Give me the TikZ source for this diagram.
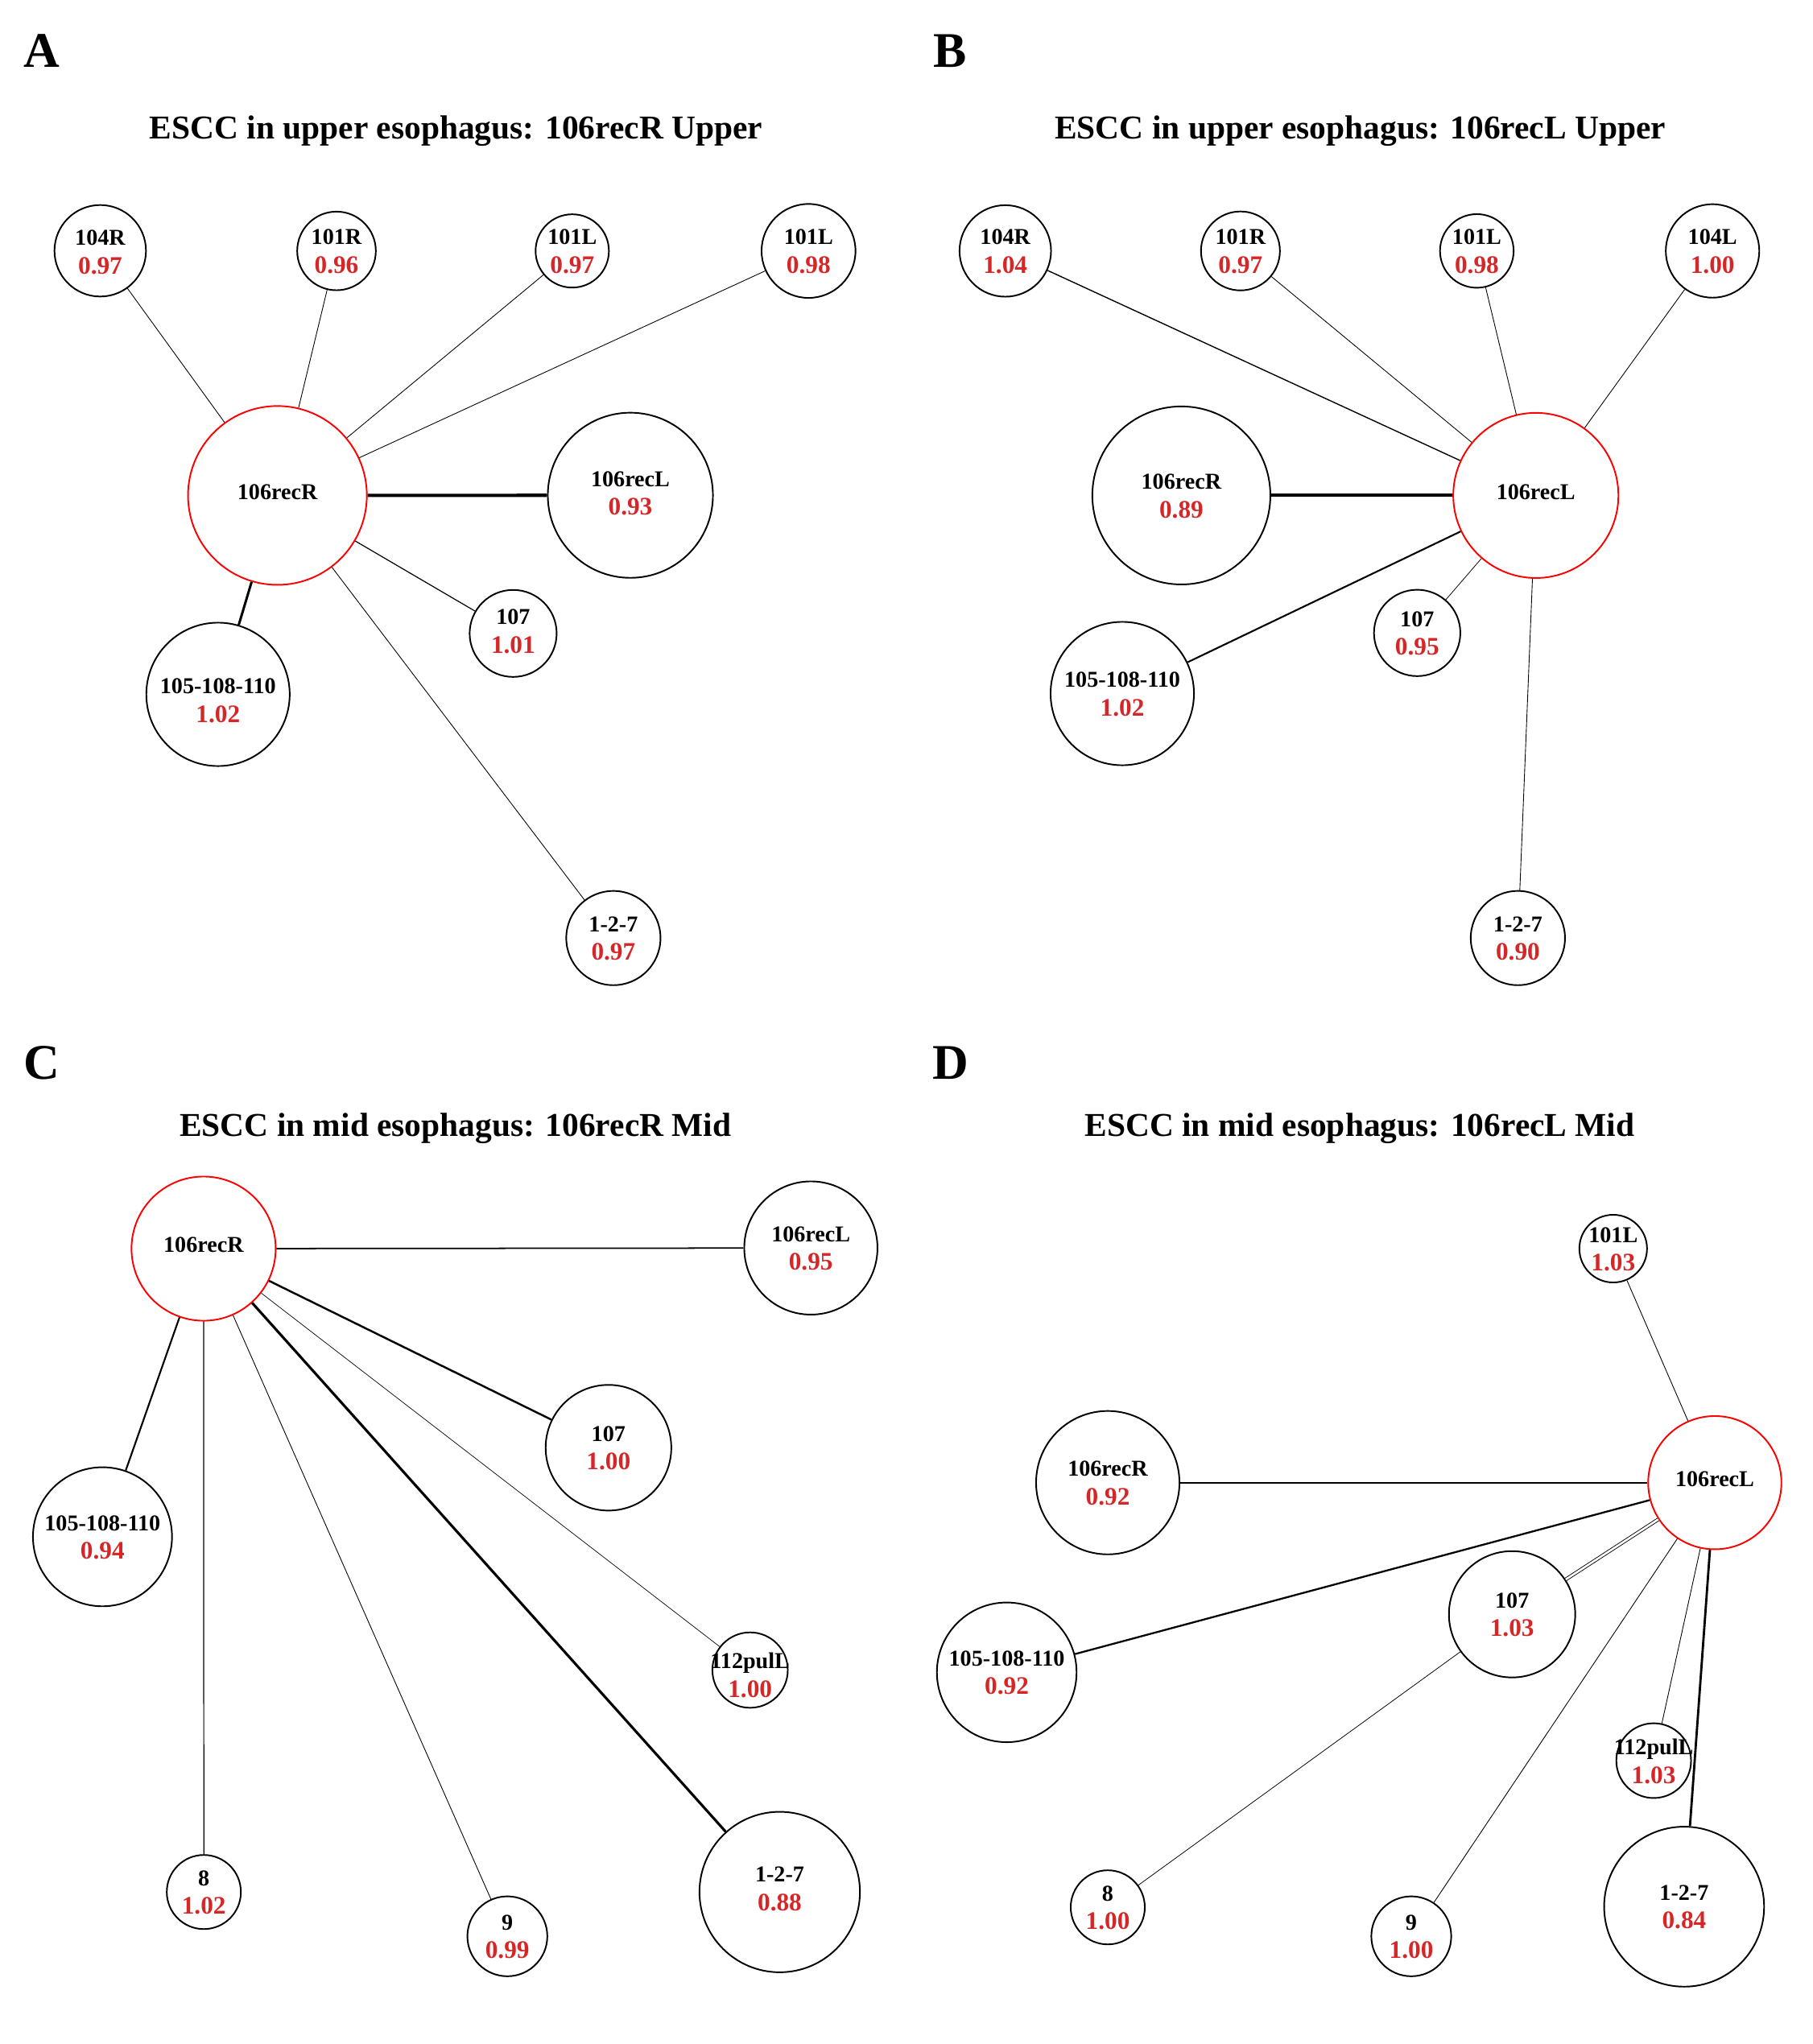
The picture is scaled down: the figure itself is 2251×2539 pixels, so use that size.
\documentclass[tikz,border=0pt]{standalone}
\usepackage{fontspec}
\setmainfont{Liberation Serif}
\definecolor{valred}{RGB}{214,39,40}
\definecolor{hubred}{RGB}{255,0,0}
\newcommand{\nm}[1]{{\fontsize{8.0}{10.1}\selectfont #1}}
\newcommand{\vl}[1]{{\color{valred}\fontsize{8.9}{10.1}\selectfont #1}}
\tikzset{
  nd/.style={circle, draw=black, line width=0.55pt, inner sep=0pt, minimum size={#1*0.56906pt}},
  hub/.style={nd=#1, draw=hubred},
  lt/.style={align=center, inner sep=0pt, font=\bfseries\fontsize{8.0}{10.1}\selectfont},
  lbv/.style 2 args={label={[lt,yshift=-0.2pt]center:{\nm{#1}\\\vl{#2}}}},
  lbvs/.style n args={3}{label={[lt,yshift=#3]center:{\nm{#1}\\\vl{#2}}}},
  lbh/.style={label={[lt,yshift=1.3pt]center:{\nm{#1}}}},
  ttl/.style={anchor=base, inner sep=0pt, font=\bfseries\fontsize{11.78}{14}\selectfont},
  pl/.style={anchor=base west, inner sep=0pt, font=\bfseries\fontsize{17.6}{20}\selectfont},
  ew/.style={line width=#1, draw=black},
}
\begin{document}
\begin{tikzpicture}[x=0.01cm,y=-0.01cm]
\useasboundingbox (0,0) rectangle (2251,2539);

% ---------------- Panel A ----------------
\node[pl] (pA) at (29,83.4) {A};
\node[ttl] (tA) at (566.5,172.5) {ESCC in upper esophagus: 106recR Upper};
\node[hub=111, lbh={106recR}] (Ahub) at (344.6,615.4) {};
\node[nd=56.8, lbvs={104R}{0.97}{-0.6pt}] (A104R) at (124.5,311.5) {};
\node[nd=48.8, lbv={101R}{0.96}] (A101R) at (418,311.7) {};
\node[nd=45.5, lbv={101L}{0.97}] (A101La) at (710.8,311.7) {};
\node[nd=58.3, lbv={101L}{0.98}] (A101Lb) at (1004.3,311.7) {};
\node[nd=102.5, lbvs={106recL}{0.93}{0.7pt}] (A106recL) at (783,615.2) {};
\node[nd=54, lbvs={107}{1.01}{0.7pt}] (A107) at (637.4,786.8) {};
\node[nd=89, lbvs={105-108-110}{1.02}{-2.2pt}] (A105) at (270.8,862.5) {};
\node[nd=58.5, lbv={1-2-7}{0.97}] (A127) at (761.9,1165.2) {};
\draw[ew=0.25pt] (Ahub) -- (A104R);
\draw[ew=0.25pt] (Ahub) -- (A101R);
\draw[ew=0.25pt] (Ahub) -- (A101La);
\draw[ew=0.25pt] (Ahub) -- (A101Lb);
\draw[ew=1.15pt] (Ahub) -- (A106recL);
\draw[ew=0.35pt] (Ahub) -- (A107);
\draw[ew=0.25pt] (Ahub) -- (A127);
\draw[ew=0.85pt] (Ahub) -- (A105);

% ---------------- Panel B ----------------
\node[pl] (pB) at (1158.8,83.4) {B};
\node[ttl] (tB) at (1689.7,172.5) {ESCC in upper esophagus: 106recL Upper};
\node[hub=102.5, lbh={106recL}] (Bhub) at (1907.7,615.4) {};
\node[nd=56.8, lbv={104R}{1.04}] (B104R) at (1248.7,311.7) {};
\node[nd=49, lbv={101R}{0.97}] (B101R) at (1540.8,311.7) {};
\node[nd=45.7, lbv={101L}{0.98}] (B101L) at (1834.4,311.7) {};
\node[nd=58, lbv={104L}{1.00}] (B104L) at (2127.2,311.7) {};
\node[nd=110.5, lbv={106recR}{0.89}] (B106recR) at (1467.4,615.4) {};
\node[nd=53.6, lbv={107}{0.95}] (B107) at (1760.3,786.2) {};
\node[nd=89, lbv={105-108-110}{1.02}] (B105) at (1394,861.5) {};
\node[nd=58.5, lbv={1-2-7}{0.90}] (B127) at (1885.4,1165.2) {};
\draw[ew=0.4pt] (Bhub) -- (B104R);
\draw[ew=0.25pt] (Bhub) -- (B101R);
\draw[ew=0.25pt] (Bhub) -- (B101L);
\draw[ew=0.25pt] (Bhub) -- (B104L);
\draw[ew=1.15pt] (Bhub) -- (B106recR);
\draw[ew=0.22pt] (Bhub) -- (B107);
\draw[ew=0.6pt] (Bhub) -- (B105);
\draw[ew=0.25pt] (Bhub) -- (B127);

% ---------------- Panel C ----------------
\node[pl] (pC) at (28.8,1340.4) {C};
\node[ttl] (tC) at (565.8,1411.7) {ESCC in mid esophagus: 106recR Mid};
\node[hub=89.5, lbh={106recR}] (Chub) at (252.9,1551) {};
\node[nd=82.7, lbv={106recL}{0.95}] (C106recL) at (1007.2,1550.2) {};
\node[nd=78, lbv={107}{1.00}] (C107) at (755.8,1798.3) {};
\node[nd=86.3, lbv={105-108-110}{0.94}] (C105) at (127.3,1908.9) {};
\node[nd=46.8, lbvs={112pulL}{1.00}{-1.9pt}] (C112) at (931.7,2074.5) {};
\node[nd=46, lbv={8}{1.02}] (C8) at (253.2,2350.2) {};
\node[nd=49.6, lbv={9}{0.99}] (C9) at (630.2,2405.2) {};
\node[nd=99.6, lbvs={1-2-7}{0.88}{1.1pt}] (C127) at (968.5,2350.2) {};
\draw[ew=0.5pt] (Chub) -- (C106recL);
\draw[ew=0.7pt] (Chub) -- (C107);
\draw[ew=0.6pt] (Chub) -- (C105);
\draw[ew=0.2pt] (Chub) -- (C112);
\draw[ew=0.35pt] (Chub) -- (C8);
\draw[ew=0.25pt] (Chub) -- (C9);
\draw[ew=0.9pt] (Chub) -- (C127);

% ---------------- Panel D ----------------
\node[pl] (pD) at (1157.4,1340.4) {D};
\node[ttl] (tD) at (1689,1411.7) {ESCC in mid esophagus: 106recL Mid};
\node[hub=82.7, lbh={106recL}] (Dhub) at (2130,1841.7) {};
\node[nd=42, lbv={101L}{1.03}] (D101L) at (2003.8,1551) {};
\node[nd=89, lbv={106recR}{0.92}] (D106recR) at (1376,1841.7) {};
\node[nd=86.7, lbv={105-108-110}{0.92}] (D105) at (1250.5,2077.3) {};
\node[nd=78.4, lbv={107}{1.03}] (D107) at (1878.2,2005.2) {};
\node[nd=46.4, lbv={112pulL}{1.03}] (D112) at (2054.1,2187) {};
\node[nd=46, lbv={8}{1.00}] (D8) at (1376,2369.2) {};
\node[nd=49.6, lbv={9}{1.00}] (D9) at (1753,2405.2) {};
\node[nd=99.3, lbv={1-2-7}{0.84}] (D127) at (2091.9,2368.4) {};
\draw[ew=0.25pt] (Dhub) -- (D101L);
\draw[ew=0.55pt] (Dhub) -- (D106recR);
\draw[ew=0.65pt] (Dhub) -- (D105);
\draw[ew=0.25pt, double, double distance=0.75pt] (Dhub) -- (D107);
\draw[ew=0.22pt] (D107) -- (D8);
\draw[ew=0.25pt] (Dhub) -- (D9);
\draw[ew=0.25pt] (Dhub) -- (D112);
\draw[ew=0.8pt] (Dhub) -- (D127);
\end{tikzpicture}
\end{document}
